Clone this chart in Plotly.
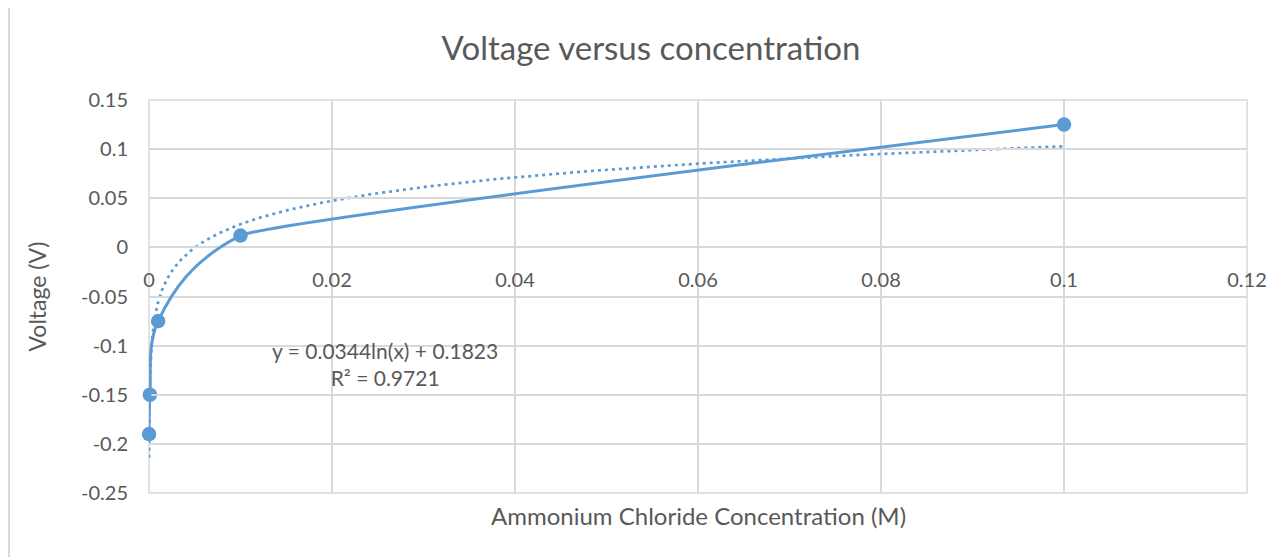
import numpy as np
import plotly.graph_objects as go

# Data
concentration = [0.00001, 0.0001, 0.001, 0.01, 0.1]
voltage = [-0.19, -0.15, -0.075, 0.012, 0.125]
x_ticks = [0, 0.02, 0.04, 0.06, 0.08, 0.1, 0.12]
x_tick_labels = ["0", "0.02", "0.04", "0.06", "0.08", "0.1", "0.12"]
y_ticks = [0.15, 0.1, 0.05, 0, -0.05, -0.1, -0.15, -0.2, -0.25]
y_tick_labels = ["0.15", "0.1", "0.05", "0", "-0.05", "-0.1", "-0.15", "-0.2", "-0.25"]
trend_label = "y = 0.0344ln(x) + 0.1823<br>R² = 0.9721"

# Logarithmic trendline fitted to the data
lnx = np.log(np.array(concentration))
slope, intercept = np.polyfit(lnx, np.array(voltage), 1)
trend_x = np.logspace(np.log10(min(concentration)), np.log10(max(concentration)), 400)
trend_y = slope * np.log(trend_x) + intercept

BLUE = "#5B9BD5"
GRID = "#D9D9D9"
TXT = "#595959"
FONT = "Lato, Calibri, sans-serif"

XMAX = 0.12
split = concentration[3]          # where the smoothing character changes
split_frac = split / XMAX

fig = go.Figure()
fig.add_trace(go.Scatter(
    x=trend_x, y=trend_y, mode="lines",
    line=dict(color=BLUE, width=2.7, dash="3px,4px"),
    hoverinfo="skip",
))
# smoothed line, strongly curved part (shown only left of the split)
fig.add_trace(go.Scatter(
    x=concentration, y=voltage, mode="lines", xaxis="x2",
    line=dict(color=BLUE, width=3, shape="spline", smoothing=1),
    hoverinfo="skip",
))
# smoothed line, gently curved part (shown only right of the split)
fig.add_trace(go.Scatter(
    x=concentration, y=voltage, mode="lines", xaxis="x3",
    line=dict(color=BLUE, width=3, shape="spline", smoothing=0.2),
    hoverinfo="skip",
))
fig.add_trace(go.Scatter(
    x=concentration, y=voltage, mode="markers", cliponaxis=False,
    marker=dict(color=BLUE, size=14.5),
))

OFF = 8  # page body margin
W, H = 1281 - OFF, 557 - OFF
L, T = 149 - OFF, 100 - OFF
pw, ph = 1098, 393
R, B = W - L - pw, H - T - ph

def px_x(p):
    return (p - OFF - L) / pw

def px_y(p):
    return (T + ph - (p - OFF)) / ph

ymin, ymax = -0.25, 0.15
zero_pos = (0 - ymin) / (ymax - ymin)

fig.update_layout(
    width=W, height=H,
    margin=dict(l=L, r=R, t=T, b=B),
    paper_bgcolor="white", plot_bgcolor="rgba(0,0,0,0)",
    showlegend=False,
    font=dict(family=FONT, color=TXT),
    title=dict(text="Voltage versus concentration", x=(651 - OFF) / W, xref="container",
               xanchor="center", y=1 - (48 - OFF) / H, yref="container", yanchor="middle",
               font=dict(size=33, color=TXT, family=FONT)),
    xaxis=dict(range=[0, XMAX], tickvals=x_ticks, ticktext=x_tick_labels,
               showgrid=True, gridcolor=GRID, gridwidth=1.5, zeroline=False,
               showline=False, ticks="", anchor="free", position=zero_pos,
               ticklabelstandoff=19, tickfont=dict(size=20, color=TXT, family=FONT)),
    xaxis2=dict(range=[0, split], domain=[0, split_frac], anchor="y", visible=False),
    xaxis3=dict(range=[split, XMAX], domain=[split_frac, 1], anchor="y", visible=False),
    yaxis=dict(range=[ymin, ymax], tickvals=y_ticks, ticktext=y_tick_labels,
               showgrid=True, gridcolor=GRID, gridwidth=1.5, zeroline=False,
               showline=False, ticks="", ticklabelstandoff=20,
               tickfont=dict(size=20, color=TXT, family=FONT)),
    shapes=[
        dict(type="line", xref="paper", yref="paper", x0=px_x(9), x1=px_x(9), y0=-0.3, y1=px_y(6),
             line=dict(color=GRID, width=2)),
        dict(type="line", xref="paper", yref="paper", x0=px_x(9), x1=1.2, y0=px_y(6), y1=px_y(6),
             line=dict(color=GRID, width=2)),
        dict(type="rect", xref="x domain", yref="y domain", x0=0, x1=1, y0=0, y1=1,
             line=dict(color=GRID, width=1.5), layer="below"),
    ],
    annotations=[
        dict(text="Ammonium Chloride Concentration (M)", xref="paper", yref="paper",
             x=0.5, y=px_y(515), xanchor="center", yanchor="middle", showarrow=False,
             font=dict(size=24, color=TXT, family=FONT)),
        dict(text="Voltage (V)", xref="paper", yref="paper", textangle=-90,
             x=px_x(36), y=0.5, xanchor="center", yanchor="middle", showarrow=False,
             font=dict(size=23, color=TXT, family=FONT)),
        dict(text=trend_label,
             xref="paper", yref="paper", x=px_x(385), y=px_y(364),
             xanchor="center", yanchor="middle", showarrow=False, align="center",
             font=dict(size=21, color=TXT, family=FONT)),
    ],
)

fig.write_html("out.html")
